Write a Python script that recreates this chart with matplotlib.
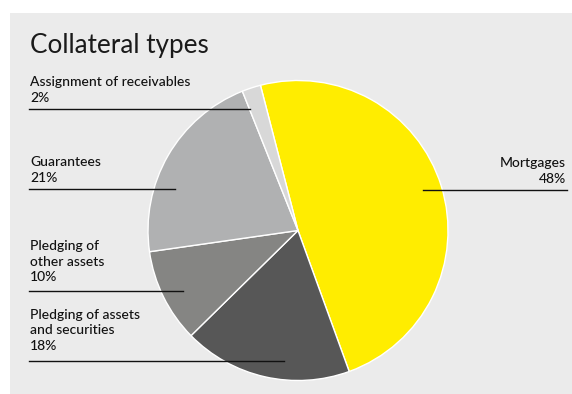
import matplotlib.pyplot as plt
from matplotlib.patches import Rectangle

# collateral breakdown, in percent
labels = ['Mortgages', 'Pledging of assets\nand securities', 'Pledging of\nother assets',
          'Guarantees', 'Assignment of receivables']
shares = [48, 18, 10, 21, 2]
colors = ['#ffed00', '#575757', '#858583', '#b0b1b2', '#d8d8d8']

W, H = 572, 394
fig = plt.figure(figsize=(W / 100, H / 100), dpi=100)
ax = fig.add_axes([0, 0, 1, 1])

# pie centre/radius in pixel units (y measured from bottom)
cx, cy, r = 298, H - 230.5, 150

ax.pie(shares, colors=colors, startangle=104.5, counterclock=False,
       center=(cx, cy), radius=r, frame=True,
       wedgeprops=dict(edgecolor='white', linewidth=1.0))
ax.set_xlim(0, W)
ax.set_ylim(0, H)
ax.set_aspect('equal')
ax.axis('off')

ax.add_patch(Rectangle((10, 0), W - 10, H - 13, facecolor='#ebebeb',
                       edgecolor='none', zorder=-5))

ax.text(30, H - 45, 'Collateral types', fontsize=18.8, family='Lato',
        fontweight='normal', va='center', ha='left', color='#1a1a1a')

lab_font = dict(fontsize=10, family='Lato', fontweight='medium',
                color='#111111', linespacing=1.35)

# left-side labels: (text top y, underline y, underline end x)
left_spots = {
    4: (76, 109, 250),
    3: (156, 189, 175),
    2: (240, 291, 183),
    1: (309, 361, 284),
}
for i, (ty, ly, lx) in left_spots.items():
    ax.text(30, H - ty, f'{labels[i]}\n{shares[i]}%', ha='left', va='top', **lab_font)
    ax.plot([29, lx], [H - ly, H - ly], color='#111111', lw=1.0, zorder=10)

# mortgages on the right
ax.text(566, H - 157, f'{labels[0]}\n{shares[0]}%', ha='right', va='top',
        multialignment='right', **lab_font)
ax.plot([423, 567], [H - 190, H - 190], color='#111111', lw=1.0, zorder=10)

fig.savefig('out.png', dpi=100, facecolor='white')
